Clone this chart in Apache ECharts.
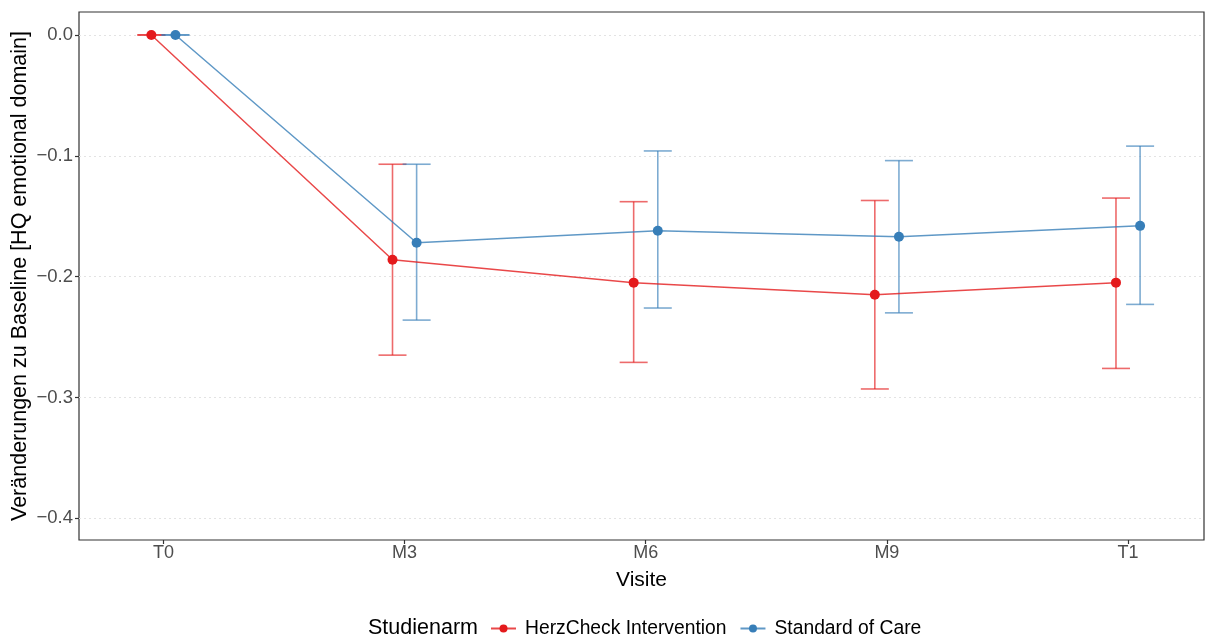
<!DOCTYPE html>
<html>
<head>
<meta charset="utf-8">
<script src="https://cdn.jsdelivr.net/npm/echarts@6/dist/echarts.min.js"></script>
<style>
  html, body { margin: 0; padding: 0; background: #fff; }
  #chart { width: 1206px; height: 637px; }
</style>
</head>
<body>
<div id="chart"></div>
<script>
// visits on the x axis
let visits = ["T0", "M3", "M6", "M9", "T1"]
let yTicks = [-0.4, -0.3, -0.2, -0.1, 0.0]

// HerzCheck Intervention
let herzMean = [0, -0.186, -0.205, -0.215, -0.205]
let herzLow = [0, -0.265, -0.271, -0.293, -0.276]
let herzHigh = [0, -0.107, -0.138, -0.137, -0.135]

// Standard of Care
let socMean = [0, -0.172, -0.162, -0.167, -0.158]
let socLow = [0, -0.236, -0.226, -0.230, -0.223]
let socHigh = [0, -0.107, -0.096, -0.104, -0.092]

let red = "#E41A1C"
let blue = "#377EB8"
let dodge = 0.05

let chart = echarts.init(document.getElementById("chart"))

function points(means, shift) {
    return means.map(function (v, i) { return [i + shift, v] })
}

function bars(low, high, shift) {
    return low.map(function (v, i) { return [i + shift, v, high[i]] })
}

function errorBar(color) {
    return function (params, api) {
        let top = api.coord([api.value(0), api.value(2)])
        let bottom = api.coord([api.value(0), api.value(1)])
        let half = 14
        let style = {stroke: color, lineWidth: 1.6, opacity: 0.65}
        return {
            type: "group",
            children: [
                {type: "line", shape: {x1: top[0], y1: top[1], x2: bottom[0], y2: bottom[1]}, style: style},
                {type: "line", shape: {x1: top[0] - half, y1: top[1], x2: top[0] + half, y2: top[1]}, style: style},
                {type: "line", shape: {x1: bottom[0] - half, y1: bottom[1], x2: bottom[0] + half, y2: bottom[1]}, style: style}
            ]
        }
    }
}

let option = {
    backgroundColor: "#fff",
    animation: false,
    grid: {
        left: 79, right: 2, top: 12, bottom: 97,
        outerBoundsMode: "none",
        show: true, borderColor: "#333", borderWidth: 1.2, backgroundColor: "transparent"
    },
    xAxis: {
        type: "value",
        min: -0.35,
        max: 4.315,
        name: "Visite",
        nameLocation: "middle",
        nameGap: 30,
        nameMoveOverlap: false,
        nameTextStyle: {fontSize: 21, color: "#000", fontFamily: "Liberation Sans"},
        axisLine: {show: false, onZero: false},
        splitLine: {show: false},
        axisTick: {show: true, length: 4, lineStyle: {color: "#333", width: 1.2}, customValues: [0, 1, 2, 3, 4]},
        axisLabel: {
            customValues: [0, 1, 2, 3, 4],
            formatter: function (v) { return visits[Math.round(v)] },
            fontSize: 18, color: "#4d4d4d", margin: 4, fontFamily: "Liberation Sans"
        }
    },
    yAxis: {
        type: "value",
        min: -0.418,
        max: 0.019,
        interval: 0.05,
        name: "Veränderungen zu Baseline [HQ emotional domain]",
        nameLocation: "middle",
        nameGap: 48,
        nameMoveOverlap: false,
        nameTextStyle: {fontSize: 21.5, color: "#000", fontFamily: "Liberation Sans"},
        axisLine: {show: false, onZero: false},
        splitLine: {show: true, lineStyle: {color: "#e3e3e3", type: [2, 3], width: 1}},
        axisTick: {show: true, length: 4, lineStyle: {color: "#333", width: 1.2}, customValues: yTicks},
        axisLabel: {
            customValues: yTicks,
            formatter: function (v) { return (v < 0 ? "\u2212" : "") + Math.abs(v).toFixed(1) },
            fontSize: 18.5, color: "#4d4d4d", margin: 6, fontFamily: "Liberation Sans"
        }
    },
    legend: {
        top: 619,
        left: 490,
        padding: 0,
        itemWidth: 25,
        itemHeight: 10,
        itemGap: 13,
        textStyle: {fontSize: 19.3, color: "#000", fontFamily: "Liberation Sans", padding: [0, 0, 0, 4]},
        data: ["HerzCheck Intervention", "Standard of Care"]
    },
    graphic: [{
        type: "text",
        left: 368,
        top: 617,
        style: {text: "Studienarm", fontSize: 21.5, fill: "#000", fontFamily: "Liberation Sans"}
    }],
    series: [
        {
            name: "HerzCheck Intervention",
            type: "line",
            data: points(herzMean, -dodge),
            symbol: "circle",
            symbolSize: 10,
            itemStyle: {color: red},
            lineStyle: {color: red, width: 1.5, opacity: 0.8},
            z: 3
        },
        {
            name: "Standard of Care",
            type: "line",
            data: points(socMean, dodge),
            symbol: "circle",
            symbolSize: 10,
            itemStyle: {color: blue},
            lineStyle: {color: blue, width: 1.5, opacity: 0.8},
            z: 3
        },
        {
            name: "HerzCheck Intervention",
            type: "custom",
            renderItem: errorBar(red),
            data: bars(herzLow, herzHigh, -dodge),
            encode: {x: 0, y: [1, 2]},
            z: 2
        },
        {
            name: "Standard of Care",
            type: "custom",
            renderItem: errorBar(blue),
            data: bars(socLow, socHigh, dodge),
            encode: {x: 0, y: [1, 2]},
            z: 2
        }
    ]
}

chart.setOption(option)
</script>
</body>
</html>
